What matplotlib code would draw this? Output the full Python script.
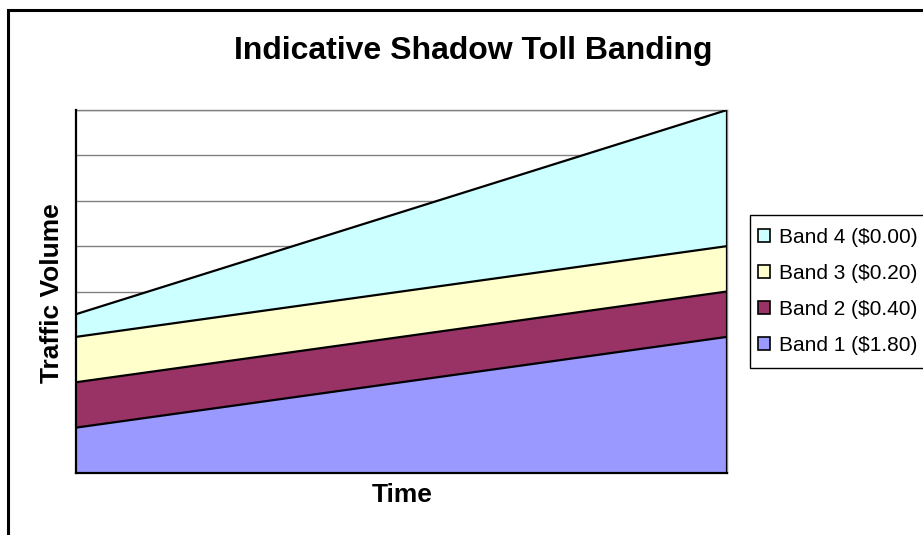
import matplotlib
matplotlib.use("Agg")
import matplotlib.pyplot as plt
from matplotlib.patches import Patch, Rectangle

plt.rcParams['font.family'] = ['Liberation Sans', 'DejaVu Sans']

# Time points (start / end of the period)
time = [0, 1]

# Traffic volume in each band (stacked)
band1 = [1.0, 3.0]
band2 = [1.0, 1.0]
band3 = [1.0, 1.0]
band4 = [0.5, 3.0]

labels = ["Band 1 ($1.80)", "Band 2 ($0.40)", "Band 3 ($0.20)", "Band 4 ($0.00)"]
colors = ["#9999FF", "#993366", "#FFFFCC", "#CCFFFF"]

W, H = 923, 535
fig = plt.figure(figsize=(W / 100, H / 100), dpi=100)

# outer chart frame
fig.patches.append(Rectangle((8 / W, -0.1), 1.2, (H - 10) / H + 0.1,
                             transform=fig.transFigure, fill=False,
                             edgecolor="black", linewidth=2.2, zorder=0))

# legend box frame (runs past the right edge)
fig.patches.append(Rectangle((750 / W, 1 - 368 / H), 0.2, (368 - 215) / H,
                             transform=fig.transFigure, facecolor="white",
                             edgecolor="black", linewidth=1.0, zorder=1))

left, right, top, bottom = 76, 727, 110, 473
ax = fig.add_axes([left / W, 1 - bottom / H, (right - left) / W, (bottom - top) / H])

series = [band1, band2, band3, band4]
base = [0.0] * len(time)
for vals, col in zip(series, colors):
    top_vals = [b + v for b, v in zip(base, vals)]
    ax.fill_between(time, base, top_vals, facecolor=col, edgecolor="none", zorder=2)
    ax.plot(time, top_vals, color="black", linewidth=1.6, zorder=3)
    base = top_vals
ax.plot([time[-1], time[-1]], [0, base[-1]], color="black", linewidth=1.6, zorder=3)

ax.set_xlim(time[0], time[-1])
ax.set_ylim(0, 8)
for g in range(1, 9):
    ax.axhline(g, color="#808080", linewidth=1.0, zorder=1)

ax.set_xticks([])
ax.set_yticks([])
for s in ["top", "right"]:
    ax.spines[s].set_color("#808080")
    ax.spines[s].set_linewidth(1.0)
for s in ["left", "bottom"]:
    ax.spines[s].set_color("black")
    ax.spines[s].set_linewidth(1.6)
    ax.spines[s].set_zorder(4)

fig.text(473 / W, 1 - 51 / H, "Indicative Shadow Toll Banding", ha="center", va="center",
         fontsize=23, fontweight="bold")
fig.text(402 / W, 1 - 495 / H, "Time", ha="center", va="center",
         fontsize=19, fontweight="bold")
fig.text(52 / W, 1 - 293 / H, "Traffic Volume", ha="center", va="center",
         rotation=90, fontsize=19, fontweight="bold")

handles = [Patch(facecolor=c, edgecolor="black", linewidth=1.2) for c in colors][::-1]
leg = fig.legend(handles, labels[::-1], loc="upper left",
                 bbox_to_anchor=(758 / W, 1 - 228 / H),
                 frameon=False, fontsize=15,
                 handlelength=0.58, handleheight=0.58, handletextpad=0.45,
                 labelspacing=0.82, borderpad=0, borderaxespad=0)
leg.set_zorder(5)

fig.savefig("out.png", dpi=100)
